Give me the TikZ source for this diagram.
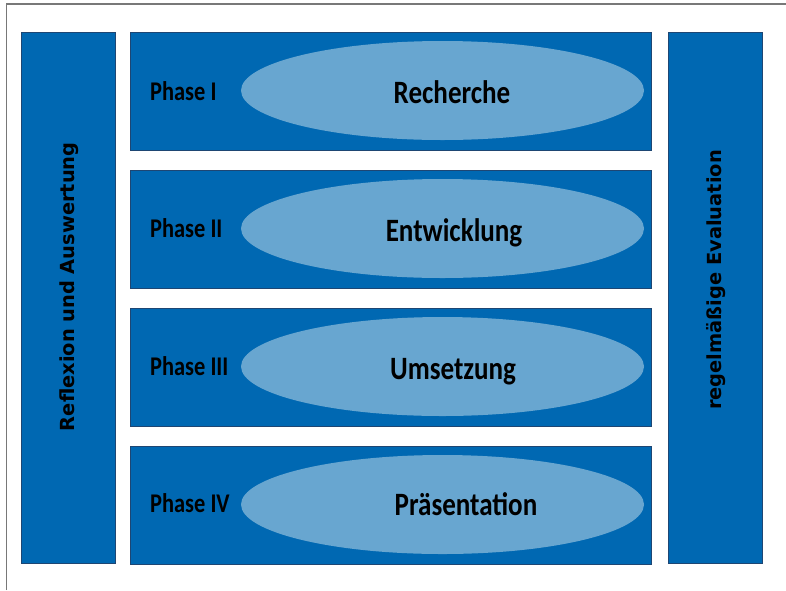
\documentclass[tikz,border=0pt]{standalone}
\usepackage{fontspec}
\usetikzlibrary{shapes.geometric}
\newfontfamily\calfont[FakeStretch=0.83]{Carlito}
\newfontfamily\sidefont{DejaVu Sans}
\definecolor{boxblue}{RGB}{0,104,178}
\definecolor{boxedge}{RGB}{30,70,115}
\definecolor{ellblue}{RGB}{104,166,208}
\definecolor{framegray}{RGB}{120,120,120}
\begin{document}
\begin{tikzpicture}[x=1pt,y=-1pt,
  sidebox/.style={draw=boxedge,line width=0.9pt,fill=boxblue,inner sep=0pt,outer sep=0pt,minimum width=94.5pt,minimum height=531pt},
  phasebox/.style={draw=boxedge,line width=0.9pt,fill=boxblue,inner sep=0pt,outer sep=0pt,minimum width=521pt,minimum height=118pt},
  phaseell/.style={ellipse,fill=ellblue,inner sep=0pt,minimum width=403pt,minimum height=99pt},
  phaselabel/.style={anchor=base west,inner sep=0pt,font=\calfont\bfseries\fontsize{27}{27}\selectfont},
  biglabel/.style={anchor=base,inner sep=0pt,font=\calfont\bfseries\fontsize{32.6}{32.6}\selectfont},
  sidelabel/.style={anchor=base,rotate=90,inner sep=0pt,font=\sidefont\bfseries\fontsize{19.4}{19.4}\selectfont}
]
\useasboundingbox (0,0) rectangle (786,590);
% frame
\draw[framegray,line width=1.3pt] (6.5,590) -- (6.5,4) -- (786,4);
% side boxes
\node[sidebox] (left) at (68.3,297.5) {};
\node[sidebox] (right) at (715.3,297.5) {};
\node[sidelabel] (lefttxt) at (74,286.7) {Reflexion und Auswertung};
\node[sidelabel] (righttxt) at (721.5,280) {regelmäßige Evaluation};
% phase boxes
\node[phasebox] (p1) at (391.2,91) {};
\node[phasebox] (p2) at (391.2,229) {};
\node[phasebox] (p3) at (391.2,367) {};
\node[phasebox] (p4) at (391.2,505) {};
% ellipses
\node[phaseell] (e1) at (442.5,90.5) {};
\node[phaseell] (e2) at (442.5,228.5) {};
\node[phaseell] (e3) at (442.5,366.5) {};
\node[phaseell] (e4) at (442.5,504.5) {};
% labels
\node[phaselabel] (l1) at (150,100) {Phase I};
\node[phaselabel] (l2) at (150,237.5) {Phase II};
\node[phaselabel] (l3) at (150,375.5) {Phase III};
\node[phaselabel] (l4) at (150,512.5) {Phase IV};
\node[biglabel] (t1) at (452,103) {Recherche};
\node[biglabel] (t2) at (454,241) {Entwicklung};
\node[biglabel] (t3) at (453,379) {Umsetzung};
\node[biglabel] (t4) at (466,515) {Präsentation};
\end{tikzpicture}
\end{document}
